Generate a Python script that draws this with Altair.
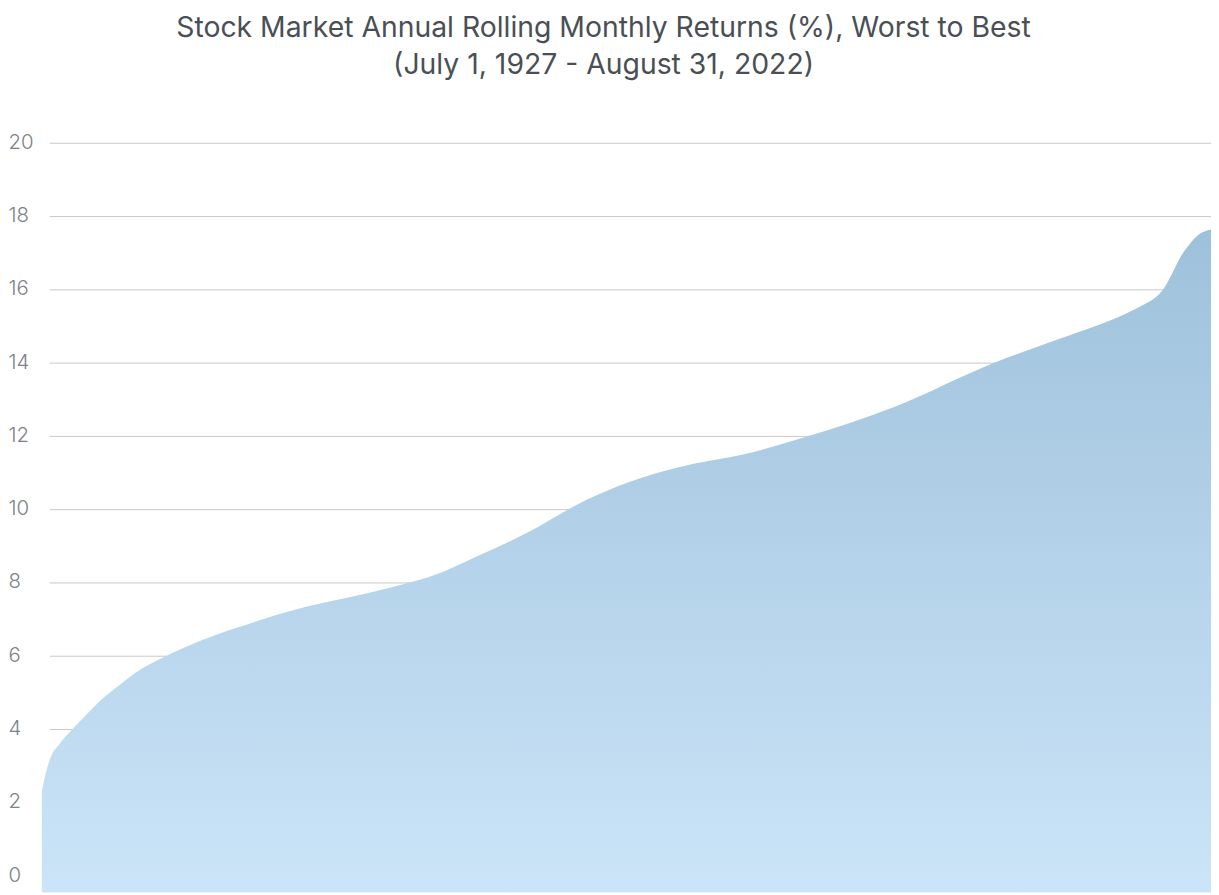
import pandas as pd
import altair as alt

# rank position (worst -> best, 0-100) and the annual rolling return at that rank
rank_pos = [0, 0.3, 0.7, 1.5, 2.6, 3.8, 4.9, 6.6, 8.1, 10.6, 13.4, 16.8, 22.5, 28.1,
            32.1, 33.0, 37.2, 41.5, 46.6, 50.0, 54.2, 60.8, 65.3, 72.9, 81.4, 87.1,
            92.7, 94.1, 95.8, 97.7, 98.9, 100]
returns = [2.3, 2.75, 3.2, 3.6, 4.0, 4.4, 4.76, 5.2, 5.57, 6.0, 6.4, 6.79, 7.34, 7.74,
           8.07, 8.15, 8.72, 9.37, 10.27, 10.73, 11.14, 11.57, 11.98, 12.8, 14.0, 14.67,
           15.35, 15.57, 15.97, 17.05, 17.5, 17.65]
grid_values = [2, 4, 6, 8, 10, 12, 14, 16, 18, 20]
tick_values = [0, 2, 4, 6, 8, 10, 12, 14, 16, 18, 20]
title_lines = ["Stock Market Annual Rolling Monthly Returns (%), Worst to Best",
               "(July 1, 1927 - August 31, 2022)"]

returns_df = pd.DataFrame({"rank": rank_pos, "ret": returns})
grid_df = pd.DataFrame({"g": grid_values})

plot_w = 1176
plot_h = 753.6
y_scale = alt.Scale(domain=[-0.45, 20], nice=False, zero=False)

y_axis = alt.Axis(
    values=tick_values,
    title=None, domain=False, ticks=False, grid=False,
    labelAlign="left", labelPadding=34, labelOffset=-1,
    labelFont="Inter", labelFontSize=20.5, labelFontWeight=300,
    labelColor="#7d8288",
)

# Horizontal gridlines, starting a little right of the area's left edge
grid = alt.Chart(grid_df).mark_rule(color="#c9c9cb", strokeWidth=1).encode(
    y=alt.Y("g:Q", scale=y_scale, axis=y_axis),
    x=alt.value(8),
    x2=alt.value(plot_w),
)

area = alt.Chart(returns_df).mark_area(
    interpolate="monotone",
    color=alt.Gradient(
        gradient="linear",
        stops=[alt.GradientStop(color="#cbe4f8", offset=0),
               alt.GradientStop(color="#9ec1db", offset=1)],
        x1=0, x2=0, y1=1, y2=0,
    ),
).encode(
    x=alt.X("rank:Q", scale=alt.Scale(domain=[0, 100], nice=False), axis=None),
    y=alt.Y("ret:Q", scale=y_scale, axis=y_axis),
    y2=alt.datum(-0.45),
)

chart = alt.layer(grid, area).properties(
    width=plot_w,
    height=plot_h,
    background="white",
    autosize=alt.AutoSizeParams(type="none"),
    padding={"left": 34, "top": 133.5, "right": 0, "bottom": 0},
    title=alt.TitleParams(
        text=title_lines,
        font="Inter", fontSize=28.5, fontWeight="normal", color="#4a4f56",
        lineHeight=37, anchor="middle", frame="group", dx=-23, offset=53,
    ),
).configure_view(
    strokeWidth=0
)

chart.save("out.html", embed_options={"renderer": "svg", "actions": False})
